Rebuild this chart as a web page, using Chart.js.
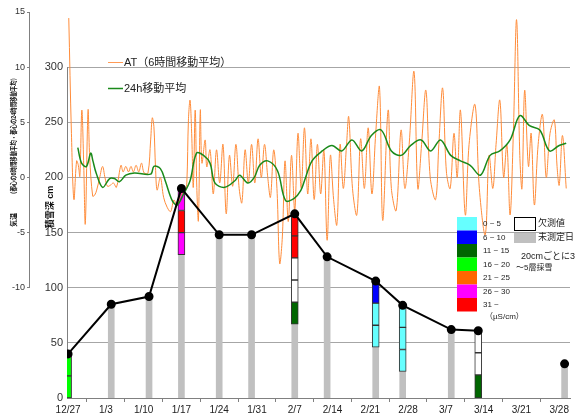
<!DOCTYPE html>
<html>
<head>
<meta charset="utf-8">
<script src="https://cdn.jsdelivr.net/npm/chart.js@4/dist/chart.umd.min.js"></script>
<style>
  html, body { margin: 0; padding: 0; background: #ffffff; }
  #wrap { width: 576px; height: 417px; position: relative; }
</style>
</head>
<body>
<div id="wrap"><canvas id="chart" width="576" height="417"></canvas></div>
<script>
// Weekly date ticks; x values are days counted from 12/27
const dateLabels = ['12/27','1/3','1/10','1/17','1/24','1/31','2/7','2/14','2/21','2/28','3/7','3/14','3/21','3/28'];

// Snow pit observations: day and total snow depth (cm)
const obsDay    = [0, 8, 15, 21, 28, 34, 42, 48, 57, 62, 71, 76, 92];
const snowDepth = [40, 85, 92, 190, 148, 148, 167, 128, 106, 84, 62, 61, 31];

// Sampled layers (about 20 cm each): day, bottom, top, conductivity class (-1 = missing value)
const layerDay   = [0, 0, 21, 21, 21, 42, 42, 42, 42, 42, 57, 57, 57, 62, 62, 62, 76, 76, 76];
const layerFrom  = [0, 20, 130, 150, 170, 67, 87, 107, 127, 147, 46, 66, 86, 24, 44, 64, 0, 21, 41];
const layerTo    = [20, 40, 150, 170, 190, 87, 107, 127, 147, 167, 66, 86, 106, 44, 64, 84, 21, 41, 61];
const layerClass = [3, 3, 5, 6, 5, 2, -1, -1, 6, 6, 0, 0, 1, 0, 0, 0, 2, -1, -1];

// Conductivity classes (µS/cm)
const conductivityClasses = ['0 ~ 5', '6 ~ 10', '11 ~ 15', '16 ~ 20', '21 ~ 25', '26 ~ 30', '31 ~'];

// Air temperature, 6-hour moving average: [day, °C]
const at6h = [
  [0.13,14.45],[0.62,4.0],[1.08,-2.0],[1.58,1.5],[1.9,1.1],[2.18,0.1],[2.55,6.1],[2.9,1.1],[3.19,-4.2],[3.7,6.1],
  [4.0,1.85],[4.56,-1.7],[4.93,-1.6],[5.3,-1.15],[5.84,-0.05],[6.39,1.0],[6.85,-0.05],[7.3,-0.8],[7.86,-0.7],[8.4,-0.5],
  [8.95,-0.9],[9.8,1.1],[10.2,0.5],[10.7,1.0],[11.2,0.5],[11.65,1.0],[12.1,0.5],[12.6,1.1],[13.1,0.5],[13.6,1.3],
  [14.1,0.4],[14.8,0.4],[15.3,3.4],[15.6,5.4],[15.9,4.6],[16.2,0.9],[16.5,-1.15],[17.1,0.0],[17.7,-1.8],[18.35,-2.7],
  [19.0,-3.1],[19.6,-2.05],[20.2,-2.5],[20.9,-1.6],[21.7,-1.15],[22.0,-0.5],[22.3,5.2],[22.6,7.0],[22.9,4.0],[23.2,-0.9],
  [23.55,6.1],[23.85,-0.9],[24.15,-3.9],[24.5,6.1],[24.8,1.3],[25.4,3.4],[25.7,0.95],[26.3,2.5],[26.9,-1.5],[27.5,2.5],
  [28.1,-0.5],[28.7,3.0],[29.3,-3.3],[29.9,2.0],[30.5,-0.8],[31.1,3.0],[31.7,-1.0],[32.2,-2.3],[32.8,2.5],[33.4,-0.5],
  [34.0,3.0],[34.6,-0.5],[35.2,3.5],[35.8,0.0],[36.4,3.0],[37.0,0.0],[37.5,-1.8],[38.1,2.5],[38.7,-1.0],[39.2,-7.8],
  [39.7,-5.4],[40.2,1.5],[40.8,-4.0],[41.4,2.0],[42.0,-3.0],[42.6,4.0],[43.2,-1.0],[43.8,4.5],[44.4,-1.5],[45.0,3.5],
  [45.6,-2.0],[46.2,3.0],[46.8,-1.5],[47.4,2.5],[48.0,-5.7],[48.6,2.0],[49.2,-2.0],[49.8,-4.3],[50.4,3.0],[51.0,-1.0],
  [51.6,3.0],[52.0,5.5],[52.7,-1.0],[53.5,-3.4],[54.2,3.5],[54.9,-1.0],[55.6,4.5],[56.3,-1.5],[57.0,4.0],[57.7,8.2],
  [58.3,-3.9],[59.3,6.1],[59.9,-1.0],[60.8,-3.0],[61.7,4.3],[62.4,-1.0],[63.2,3.0],[64.1,9.6],[64.8,-1.0],[65.5,3.0],
  [66.3,7.9],[67.1,0.0],[68.1,-2.0],[68.7,3.0],[69.4,8.1],[70.1,0.5],[70.8,-1.0],[71.5,4.0],[72.1,0.0],[72.7,6.1],
  [73.6,-3.4],[74.3,3.0],[75.4,6.6],[76.2,-1.0],[77.3,-5.2],[78.0,2.0],[78.7,-1.0],[79.3,3.0],[80.0,7.0],[80.7,0.0],
  [81.3,3.0],[81.9,-3.4],[82.5,4.0],[83.1,14.3],[83.7,2.0],[84.1,-1.0],[84.6,7.9],[85.3,1.0],[85.8,4.0],[86.4,-2.5],
  [87.1,3.0],[87.9,5.7],[88.6,0.0],[89.3,4.0],[90.1,5.2],[90.6,1.0],[91.0,-0.7],[91.6,3.8],[92.3,-1.0]
];

// Air temperature, 24-hour moving average: [day, °C]
const at24h = [
  [1.8,2.7],[2.5,1.3],[3.4,1.0],[4.2,2.2],[4.6,1.5],[5.2,0.4],[6.4,-0.9],[7.7,-0.1],[8.6,-0.1],[9.5,-0.4],
  [10.7,0.2],[12.3,0.4],[15.3,0.3],[15.9,1.0],[17.1,0.8],[18.0,-0.3],[19.3,-2.1],[20.2,-2.5],[21.4,-1.5],[22.6,-0.3],
  [23.8,2.2],[25.1,2.0],[26.3,1.3],[27.2,-0.5],[29.0,-0.9],[30.9,-0.3],[31.8,0.2],[33.3,-0.5],[34.5,0.0],[35.5,1.1],
  [37.0,1.5],[38.8,0.6],[40.3,-2.1],[41.9,-1.9],[43.1,-1.2],[43.8,-0.3],[45.2,1.5],[47.1,2.4],[48.9,2.9],[50.7,2.4],
  [52.6,3.4],[54.4,2.4],[56.2,3.8],[58.0,4.3],[59.9,2.4],[61.7,2.0],[63.5,2.9],[65.4,3.4],[67.2,2.4],[69.0,3.4],
  [70.9,2.0],[72.7,1.5],[74.5,1.1],[76.4,0.2],[78.2,2.0],[80.0,2.4],[81.9,3.4],[83.7,5.6],[85.5,4.7],[87.4,4.3],
  [89.2,2.4],[91.0,2.9],[92.3,3.1]
];

// ---- styling ----
const FONT = '"Liberation Sans", Arial, "Noto Sans CJK JP", sans-serif';
const classColors = ['#66ffff', '#0000ff', '#006600', '#00ff00', '#ff6600', '#ff00ff', '#ff0000'];
const GRAY_BAR = '#c0c0c0';
const AXIS_GRAY = '#808080';
Chart.defaults.font.family = FONT;
Chart.defaults.color = '#222';

// draws text rotated by -90° centred at (x, y), squeezed to a given length
function verticalText(ctx, text, x, y, font, maxLen) {
  ctx.save();
  ctx.translate(x, y);
  ctx.rotate(-Math.PI / 2);
  ctx.font = font;
  ctx.textAlign = 'center';
  ctx.textBaseline = 'middle';
  if (maxLen) {
    const w = ctx.measureText(text).width;
    if (w > maxLen) ctx.scale(maxLen / w, 1);
  }
  ctx.fillText(text, 0, 0);
  ctx.restore();
}

// axis lines, legends and axis titles drawn onto the canvas
const decorations = {
  id: 'decorations',
  beforeDatasetsDraw(chart) {
    const { ctx, chartArea } = chart;
    const yS = chart.scales.ySnow, yT = chart.scales.yT;
    ctx.save();
    ctx.strokeStyle = AXIS_GRAY;
    ctx.lineWidth = 1;
    const xs = Math.round(chartArea.left) + 0.5;
    ctx.beginPath();
    ctx.moveTo(xs, yS.getPixelForValue(300));
    ctx.lineTo(xs, yS.getPixelForValue(0));
    ctx.stroke();
    const xt = Math.round(yT.right) - 0.5;
    ctx.beginPath();
    ctx.moveTo(xt, yT.getPixelForValue(15));
    ctx.lineTo(xt, yT.getPixelForValue(-10));
    ctx.stroke();
    ctx.restore();
  },
  afterDraw(chart) {
    const { ctx } = chart;
    ctx.save();
    ctx.textBaseline = 'middle';
    ctx.textAlign = 'left';

    // series legend
    ctx.lineWidth = 1;
    ctx.strokeStyle = '#ff9a55';
    ctx.beginPath(); ctx.moveTo(108, 62.5); ctx.lineTo(123, 62.5); ctx.stroke();
    ctx.lineWidth = 1.5;
    ctx.strokeStyle = '#1a8a1a';
    ctx.beginPath(); ctx.moveTo(108, 88.5); ctx.lineTo(123, 88.5); ctx.stroke();
    ctx.fillStyle = '#222';
    ctx.font = '11px ' + FONT;
    ctx.fillText('AT（6時間移動平均）', 124, 62.5);
    ctx.fillText('24h移動平均', 124, 88.5);

    // conductivity legend
    ctx.font = '8px ' + FONT;
    conductivityClasses.forEach((label, i) => {
      const top = 217 + i * 13.5;
      ctx.fillStyle = classColors[i];
      ctx.fillRect(457, top, 20, 13.5);
      ctx.fillStyle = '#222';
      ctx.fillText(label, 483, top + 7);
    });
    ctx.fillText('（µS/cm）', 485, 317);

    ctx.strokeStyle = '#000';
    ctx.lineWidth = 1;
    ctx.fillStyle = '#fff';
    ctx.fillRect(514.5, 217.5, 21, 13);
    ctx.strokeRect(514.5, 217.5, 21, 13);
    ctx.fillStyle = GRAY_BAR;
    ctx.fillRect(514, 233, 22, 10);
    ctx.fillStyle = '#222';
    ctx.font = '9px ' + FONT;
    ctx.fillText('欠測値', 538, 224);
    ctx.fillText('未測定日', 538, 238);
    ctx.fillText('20cmごとに3', 521, 257);
    ctx.font = '8px ' + FONT;
    ctx.fillText('～5層採雪', 516, 268);

    // axis titles
    ctx.fillStyle = '#111';
    verticalText(ctx, '（都心の6時間移動平均・都心の24時間移動平均）', 14, 136, 'bold 7px ' + FONT, 122);
    verticalText(ctx, '気温', 14, 220, 'bold 7px ' + FONT);
    verticalText(ctx, '積雪深 cm', 51, 207, 'bold 9px ' + FONT);

    ctx.restore();
  }
};

const snowPoints = obsDay.map((d, i) => ({ x: d, y: snowDepth[i] }));

new Chart(document.getElementById('chart'), {
  type: 'bar',
  data: {
    datasets: [
      {
        type: 'line',
        label: '積雪深',
        data: snowPoints,
        yAxisID: 'ySnow',
        borderColor: '#000',
        borderWidth: 2,
        pointRadius: 3.5,
        pointBackgroundColor: '#000',
        pointBorderColor: '#000',
        tension: 0,
        order: 0,
        // no connecting segment across a long gap between pits
        segment: {
          borderColor: c => (c.p1.parsed.x - c.p0.parsed.x > 10 ? 'rgba(0,0,0,0)' : '#000')
        }
      },
      {
        type: 'line',
        label: '24h移動平均',
        data: at24h.map(p => ({ x: p[0], y: p[1] })),
        yAxisID: 'yT',
        borderColor: '#1a8a1a',
        borderWidth: 1.5,
        pointRadius: 0,
        tension: 0.35,
        order: 1
      },
      {
        type: 'line',
        label: 'AT（6時間移動平均）',
        data: at6h.map(p => ({ x: p[0], y: p[1] })),
        yAxisID: 'yT',
        borderColor: '#ff8c3a',
        borderWidth: 1,
        pointRadius: 0,
        tension: 0.35,
        order: 2
      },
      {
        type: 'bar',
        label: 'layers',
        data: layerDay.map((d, i) => ({ x: d, y: [layerFrom[i], layerTo[i]] })),
        yAxisID: 'ySnow',
        backgroundColor: layerClass.map(c => (c < 0 ? '#ffffff' : classColors[c])),
        borderColor: '#333',
        borderWidth: 1,
        borderSkipped: false,
        barThickness: 7,
        grouped: false,
        order: 3
      },
      {
        type: 'bar',
        label: 'depth',
        data: obsDay.map((d, i) => ({ x: d, y: [0, snowDepth[i]] })),
        yAxisID: 'ySnow',
        backgroundColor: GRAY_BAR,
        borderWidth: 0,
        barThickness: 6,
        grouped: false,
        order: 4
      }
    ]
  },
  options: {
    responsive: false,
    animation: false,
    events: [],
    layout: { padding: { top: 12, right: 0, bottom: 0, left: 0 } },
    plugins: { legend: { display: false }, tooltip: { enabled: false }, title: { display: false } },
    scales: {
      x: {
        type: 'linear',
        min: -0.2,
        max: 93,
        offset: false,
        afterBuildTicks: s => { s.ticks = dateLabels.map((_, i) => ({ value: i * 7 })); },
        ticks: {
          callback: v => dateLabels[Math.round(v / 7)],
          autoSkip: false,
          maxRotation: 0,
          font: { size: 10 },
          color: '#222',
          padding: 2
        },
        grid: { drawOnChartArea: false, drawTicks: true, tickLength: 4, color: AXIS_GRAY },
        border: { display: true, color: AXIS_GRAY },
        afterFit: s => { s.height = 19; }
      },
      ySnow: {
        type: 'linear',
        position: 'left',
        weight: 0,
        min: 0,
        max: 350,
        afterBuildTicks: s => { s.ticks = [0, 50, 100, 150, 200, 250, 300].map(v => ({ value: v })); },
        ticks: { font: { size: 11 }, color: '#333', padding: 4 },
        grid: {
          drawTicks: false,
          color: '#a6a6a6',
          lineWidth: c => (c.tick && c.tick.value === 0 ? 0 : 1)
        },
        border: { display: false },
        afterFit: s => { s.width = 37; }
      },
      yT: {
        type: 'linear',
        position: 'left',
        weight: 1,
        min: -20,
        max: 15,
        afterBuildTicks: s => { s.ticks = [-10, -5, 0, 5, 10, 15].map(v => ({ value: v })); },
        ticks: { font: { size: 9 }, color: '#333', padding: 2 },
        grid: { drawOnChartArea: false, drawTicks: true, tickLength: 3, color: AXIS_GRAY },
        border: { display: false },
        afterFit: s => { s.width = 30; }
      }
    }
  },
  plugins: [decorations]
});
</script>
</body>
</html>
